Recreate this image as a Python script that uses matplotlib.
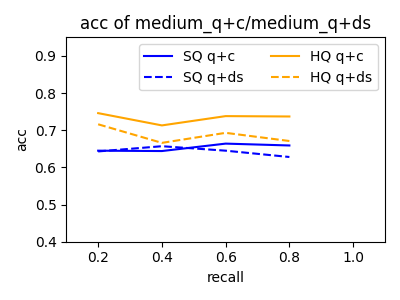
import matplotlib
matplotlib.use('Agg')
import matplotlib.pyplot as plt

recall = [0.2, 0.4, 0.6, 0.8]
sq_qc = [0.645, 0.644, 0.664, 0.659]
sq_qds = [0.643, 0.657, 0.645, 0.628]
hq_qc = [0.746, 0.713, 0.738, 0.737]
hq_qds = [0.716, 0.666, 0.693, 0.671]

fig, ax = plt.subplots(figsize=(4, 3), dpi=100)
ax.plot(recall, sq_qc, color='blue', linestyle='-', label='SQ q+c')
ax.plot(recall, sq_qds, color='blue', linestyle='--', label='SQ q+ds')
ax.plot(recall, hq_qc, color='orange', linestyle='-', label='HQ q+c')
ax.plot(recall, hq_qds, color='orange', linestyle='--', label='HQ q+ds')

ax.set_xlim(0.1, 1.1)
ax.set_ylim(0.4, 0.95)
ax.set_xticks([0.2, 0.4, 0.6, 0.8, 1.0])
ax.set_xlabel('recall')
ax.set_ylabel('acc')
ax.set_title('acc of medium_q+c/medium_q+ds')
ax.legend(ncol=2, loc='upper right')

plt.tight_layout()
plt.savefig('out.png', dpi=100)
